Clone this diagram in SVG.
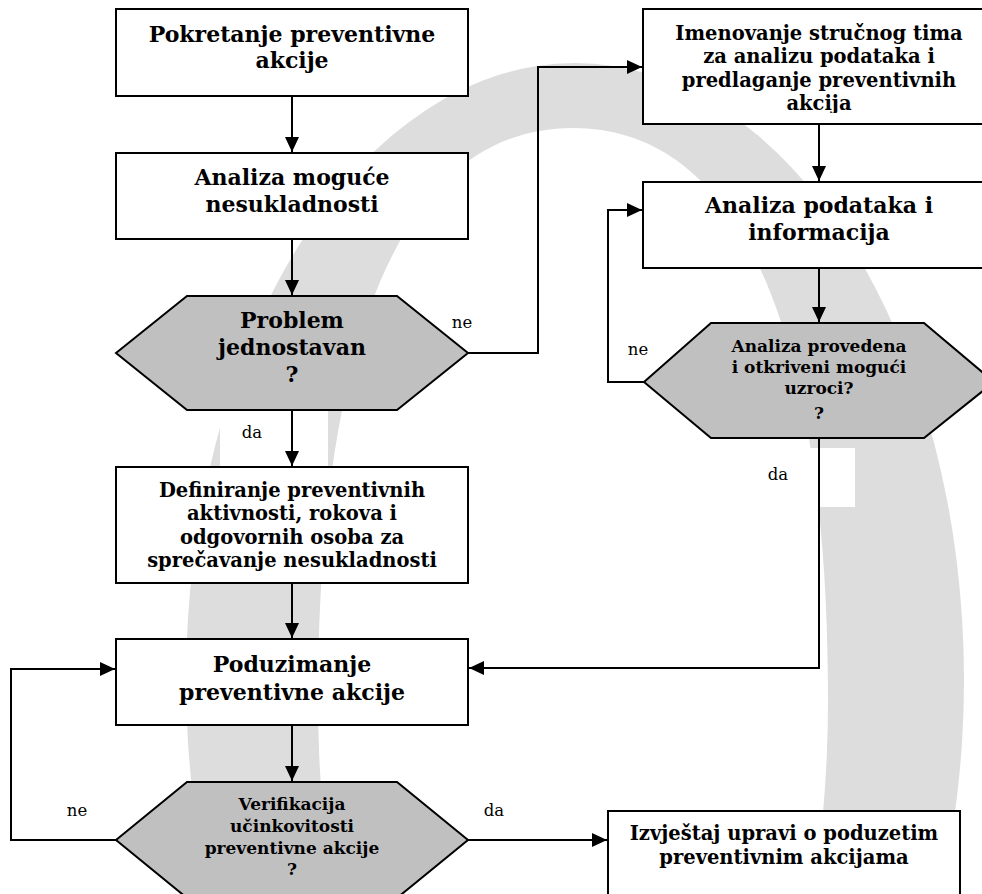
<svg xmlns="http://www.w3.org/2000/svg" width="982" height="894" viewBox="0 0 982 894">
<style>
.box{fill:#fff;stroke:#000;stroke-width:2}
.hex{fill:#c0c0c0;stroke:#000;stroke-width:2}
.t{font-family:"DejaVu Serif","Liberation Serif",serif;font-weight:bold;text-anchor:middle;fill:#000}
.big{font-size:22px}
.mid{font-size:19.5px}
.sm{font-size:17px}
.lbl{font-family:"DejaVu Serif","Liberation Serif",serif;font-size:16.5px;text-anchor:middle;fill:#000}
.c{fill:none;stroke:#000;stroke-width:2}
</style>
<defs>
<marker id="ah" markerUnits="userSpaceOnUse" markerWidth="16" markerHeight="14" refX="15" refY="7" orient="auto">
<path d="M0,0 L15,7 L0,14 Z" fill="#000"/>
</marker>
<clipPath id="clip3"><rect x="643" y="9" width="352" height="104"/></clipPath>
<clipPath id="clip5"><rect x="116" y="467" width="352" height="104"/></clipPath>
</defs>
<rect width="982" height="894" fill="#fff"/>
<g id="watermark">
<path fill="#dddddd" fill-rule="evenodd" d="M186 680 A389 617 0 0 1 964 680 A389 617 0 0 1 186 680 Z M318 700 C318 328 407 128 573 128 C739 128 828 328 828 700 A255 572 0 0 1 318 700 Z"/>
<rect x="220" y="405" width="108" height="64" fill="#fff"/>
<rect x="730" y="448" width="125" height="59" fill="#fff"/>
</g>
<g id="connectors">
<path class="c" d="M292 96 V152" marker-end="url(#ah)"/>
<path class="c" d="M292 239 V295" marker-end="url(#ah)"/>
<path class="c" d="M468 353 H538 V67 H642" marker-end="url(#ah)"/>
<path class="c" d="M819 124 V181" marker-end="url(#ah)"/>
<path class="c" d="M819 268 V322" marker-end="url(#ah)"/>
<path class="c" d="M644 382 H608 V210 H642" marker-end="url(#ah)"/>
<path class="c" d="M819 438 V668 H469" marker-end="url(#ah)"/>
<path class="c" d="M292 410 V466" marker-end="url(#ah)"/>
<path class="c" d="M292 583 V638" marker-end="url(#ah)"/>
<path class="c" d="M292 725 V781" marker-end="url(#ah)"/>
<path class="c" d="M116 840 H11 V669 H115" marker-end="url(#ah)"/>
<path class="c" d="M468 840 H607" marker-end="url(#ah)"/>
</g>
<g id="labels">
<text class="lbl" x="462" y="328">ne</text>
<text class="lbl" x="252" y="438">da</text>
<text class="lbl" x="638" y="355">ne</text>
<text class="lbl" x="778" y="480">da</text>
<text class="lbl" x="77" y="816">ne</text>
<text class="lbl" x="494" y="816">da</text>
</g>
<g id="n1">
<rect class="box" x="116" y="9" width="352" height="87"/>
<text class="t big" x="292" y="42">Pokretanje preventivne</text>
<text class="t big" x="292" y="68">akcije</text>
</g>
<g id="n2">
<rect class="box" x="116" y="153" width="352" height="86"/>
<text class="t big" x="292" y="185">Analiza moguće</text>
<text class="t big" x="292" y="212">nesukladnosti</text>
</g>
<g id="n3">
<polygon class="hex" points="116,353 187,296 397,296 468,353 397,410 187,410"/>
<text class="t big" x="292" y="328">Problem</text>
<text class="t big" x="292" y="355">jednostavan</text>
<text class="t big" x="292" y="382">?</text>
</g>
<g id="n4">
<rect class="box" x="643" y="9" width="352" height="115"/>
<g clip-path="url(#clip3)">
<text class="t mid" x="819" y="40">Imenovanje stručnog tima</text>
<text class="t mid" x="819" y="63">za analizu podataka i</text>
<text class="t mid" x="819" y="87">predlaganje preventivnih</text>
<text class="t mid" x="819" y="110">akcija</text>
</g>
</g>
<g id="n5">
<rect class="box" x="643" y="182" width="352" height="86"/>
<text class="t big" x="819" y="213">Analiza podataka i</text>
<text class="t big" x="819" y="240">informacija</text>
</g>
<g id="n6">
<polygon class="hex" points="644,382 711,323 924,323 994,382 924,438 711,438"/>
<text class="t sm" x="819" y="352">Analiza provedena</text>
<text class="t sm" x="819" y="373">i otkriveni mogući</text>
<text class="t sm" x="819" y="394">uzroci?</text>
<text class="t sm" x="819" y="419">?</text>
</g>
<g id="n7">
<rect class="box" x="116" y="467" width="352" height="116"/>
<g clip-path="url(#clip5)">
<text class="t mid" x="292" y="497">Definiranje preventivnih</text>
<text class="t mid" x="292" y="520">aktivnosti, rokova i</text>
<text class="t mid" x="292" y="544">odgovornih osoba za</text>
<text class="t mid" x="292" y="567">sprečavanje nesukladnosti</text>
</g>
</g>
<g id="n8">
<rect class="box" x="116" y="639" width="352" height="86"/>
<text class="t big" x="292" y="672">Poduzimanje</text>
<text class="t big" x="292" y="700">preventivne akcije</text>
</g>
<g id="n9">
<polygon class="hex" points="116,840 187,782 397,782 468,840 397,898 187,898"/>
<text class="t sm" x="292" y="810">Verifikacija</text>
<text class="t sm" x="292" y="832">učinkovitosti</text>
<text class="t sm" x="292" y="854">preventivne akcije</text>
<text class="t sm" x="292" y="875">?</text>
</g>
<g id="n10">
<rect class="box" x="608" y="811" width="352" height="100"/>
<text class="t mid" x="784" y="840">Izvještaj upravi o poduzetim</text>
<text class="t mid" x="784" y="864">preventivnim akcijama</text>
</g>
</svg>
